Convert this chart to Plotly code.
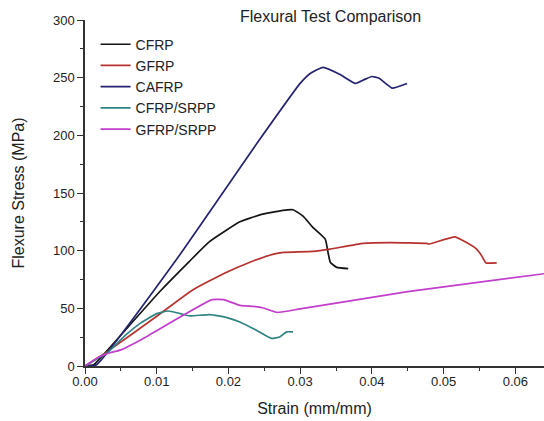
import plotly.graph_objects as go

# ---- data (strain in mm/mm, stress in MPa) ----
series_names = ["CFRP", "GFRP", "CAFRP", "CFRP/SRPP", "GFRP/SRPP"]
series_colors = ["#151515", "#b5322e", "#25236e", "#2f8482", "#c23ecb"]

cfrp_x = [0, 0.0012, 0.0023, 0.0105, 0.0146, 0.0174, 0.0216, 0.0244, 0.0276, 0.0290,
          0.0304, 0.0318, 0.0335, 0.0339, 0.0342, 0.0351, 0.0367]
cfrp_y = [0, 1, 8, 65, 91, 108, 125, 131, 135, 135.5, 130, 120, 110, 98, 90, 85.5, 84.5]

gfrp_x = [0, 0.0030, 0.0102, 0.0149, 0.0193, 0.0230, 0.0263, 0.0277, 0.0318, 0.0342,
          0.0388, 0.0425, 0.0477, 0.0479, 0.0516, 0.0532, 0.0546, 0.0553, 0.0559, 0.0574]
gfrp_y = [0, 12, 44, 65.5, 80, 90, 97, 98.5, 99.4, 101.4, 106.3, 107, 106.3, 105.7,
          112, 107, 101.4, 95.7, 89.4, 89.4]

cafrp_x = [0, 0.0016, 0.0126, 0.0242, 0.0300, 0.0315, 0.0332, 0.0355, 0.0377,
           0.0390, 0.0400, 0.0410, 0.0428, 0.0449]
cafrp_y = [0, 1, 91, 195, 245, 254, 259, 253, 245, 248.5, 251, 249.5, 241, 245]

csrpp_x = [0, 0.0033, 0.0056, 0.0077, 0.0100, 0.0116, 0.0133, 0.0146, 0.0174, 0.0198,
           0.0216, 0.0239, 0.0260, 0.0272, 0.0281, 0.0290]
csrpp_y = [0, 12.5, 26.5, 37, 45.4, 47.7, 45.4, 43.4, 44.6, 42, 38.2, 31, 24, 25.3, 29.6, 29.6]

gsrpp_x = [0, 0.0020, 0.0035, 0.0050, 0.0077, 0.0177, 0.0193, 0.0216, 0.0235, 0.0249,
           0.0268, 0.0300, 0.0450, 0.0650]
gsrpp_y = [0, 8, 11.5, 14, 22.4, 57.5, 57.5, 52.6, 51.7, 50.3, 46.5, 49.5, 64.5, 80.8]

xs = [cfrp_x, gfrp_x, cafrp_x, csrpp_x, gsrpp_x]
ys = [cfrp_y, gfrp_y, cafrp_y, csrpp_y, gsrpp_y]

x_ticks = [0, 0.01, 0.02, 0.03, 0.04, 0.05, 0.06]
y_ticks = [0, 50, 100, 150, 200, 250, 300]

FONT = "Liberation Sans, Arial, sans-serif"
AX = "#333333"

fig = go.Figure()
for name, color, x, y in zip(series_names, series_colors, xs, ys):
    fig.add_trace(go.Scatter(x=x, y=y, mode="lines", name=name,
                             line=dict(color=color, width=1.7, shape="spline", smoothing=0.4)))

fig.update_layout(
    width=544, height=421,
    margin=dict(l=85, r=0, t=20, b=55),
    paper_bgcolor="white", plot_bgcolor="white",
    font=dict(family=FONT, color="#222222"),
    title=dict(text="Flexural Test Comparison", x=0.535, xref="paper", xanchor="center",
               y=1 - 16 / 421, yanchor="middle", font=dict(size=16, family=FONT, color="#222222")),
    showlegend=True,
    legend=dict(x=0.023, y=0.975, xanchor="left", yanchor="top",
                bgcolor="rgba(0,0,0,0)", borderwidth=0,
                font=dict(size=14, family=FONT, color="#222222")),
)

fig.update_xaxes(
    range=[0, 0.064], tickvals=x_ticks, tickformat=".2f",
    showgrid=False, zeroline=False, showline=True, linecolor=AX, linewidth=1.5,
    ticks="outside", ticklen=6, tickwidth=1.3, tickcolor=AX,
    tickfont=dict(size=13, color="#222222"), ticklabelstandoff=-3,
    minor=dict(dtick=0.005, tick0=0, ticks="outside", ticklen=3, tickwidth=1.2, tickcolor=AX),
    title=dict(text="Strain (mm/mm)", font=dict(size=16, color="#222222"), standoff=14),
)
fig.update_yaxes(
    range=[0, 300], tickvals=y_ticks,
    showgrid=False, zeroline=False, showline=True, linecolor=AX, linewidth=1.5,
    ticks="outside", ticklen=6, tickwidth=1.3, tickcolor=AX,
    tickfont=dict(size=13, color="#222222"),
    minor=dict(dtick=25, tick0=0, ticks="outside", ticklen=3, tickwidth=1.2, tickcolor=AX),
    title=dict(text="Flexure Stress (MPa)", font=dict(size=16, color="#222222"), standoff=24),
)

fig.write_html("out.html")
